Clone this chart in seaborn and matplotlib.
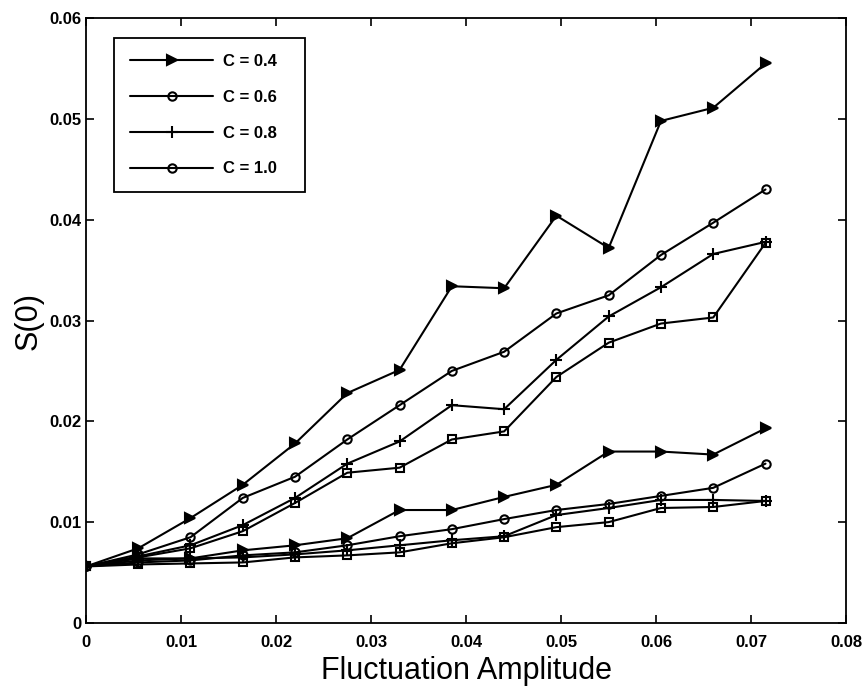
import numpy as np
import matplotlib
matplotlib.use("Agg")
import matplotlib.pyplot as plt
from matplotlib.lines import Line2D
import seaborn as sns

# Fluctuation amplitude (x) values
amplitude = [0.0, 0.0055, 0.011, 0.0165, 0.022, 0.0275, 0.033,
             0.0385, 0.044, 0.0495, 0.055, 0.0605, 0.066, 0.0715]

# upper set of curves
upper_c04 = [0.0056, 0.0074, 0.0104, 0.0137, 0.0178, 0.0228, 0.0251,
             0.0334, 0.0332, 0.0404, 0.0372, 0.0498, 0.0511, 0.0555]
upper_c06 = [0.0056, 0.0068, 0.0085, 0.0124, 0.0145, 0.0182, 0.0216,
             0.0250, 0.0269, 0.0307, 0.0325, 0.0365, 0.0397, 0.0430]
upper_c08 = [0.0056, 0.0066, 0.0077, 0.0097, 0.0124, 0.0158, 0.0180,
             0.0216, 0.0212, 0.0261, 0.0304, 0.0333, 0.0366, 0.0378]
upper_c10 = [0.0056, 0.0065, 0.0074, 0.0091, 0.0119, 0.0149, 0.0154,
             0.0182, 0.0190, 0.0244, 0.0278, 0.0297, 0.0303, 0.0377]

# lower set of curves
lower_c04 = [0.0056, 0.0064, 0.0064, 0.0072, 0.0077, 0.0084, 0.0112,
             0.0112, 0.0125, 0.0137, 0.0170, 0.0170, 0.0167, 0.0193]
lower_c06 = [0.0056, 0.0060, 0.0062, 0.0067, 0.0070, 0.0077, 0.0086,
             0.0093, 0.0103, 0.0112, 0.0118, 0.0126, 0.0134, 0.0158]
lower_c08 = [0.0056, 0.0062, 0.0064, 0.0065, 0.0068, 0.0072, 0.0077,
             0.0082, 0.0086, 0.0107, 0.0114, 0.0122, 0.0122, 0.0121]
lower_c10 = [0.0056, 0.0058, 0.0059, 0.0060, 0.0065, 0.0067, 0.0070,
             0.0079, 0.0085, 0.0095, 0.0100, 0.0114, 0.0115, 0.0121]

legend_labels = ["C = 0.4", "C = 0.6", "C = 0.8", "C = 1.0"]
x_ticklabels = ["0", "0.01", "0.02", "0.03", "0.04", "0.05", "0.06", "0.07", "0.08"]
y_ticklabels = ["0", "0.01", "0.02", "0.03", "0.04", "0.05", "0.06"]

sns.set_style("ticks")
plt.rcParams["font.family"] = ["Liberation Sans", "DejaVu Sans"]
plt.rcParams["text.color"] = "black"
plt.rcParams["axes.labelcolor"] = "black"
plt.rcParams["xtick.color"] = "black"
plt.rcParams["ytick.color"] = "black"

fig = plt.figure(figsize=(8.68, 6.96), dpi=100)
ax = fig.add_axes([0.099, 0.105, 0.876, 0.869])

# marker style per C value: (marker, filled, size)
styles = [(">", True, 7), ("o", False, 6), ("+", False, 8), ("s", False, 6)]
all_series = [upper_c04, upper_c06, upper_c08, upper_c10,
              lower_c04, lower_c06, lower_c08, lower_c10]

for i, ys in enumerate(all_series):
    m, filled, ms = styles[i % 4]
    sns.lineplot(x=amplitude, y=ys, ax=ax, color="black", linewidth=1.5,
                 marker=m, markersize=ms,
                 markerfacecolor="black" if filled else "none",
                 markeredgecolor="black", markeredgewidth=1.5)

ax.set_xlim(0, 0.08)
ax.set_ylim(0, 0.06)
ax.set_xticks(np.arange(0, 0.081, 0.01))
ax.set_yticks(np.arange(0, 0.061, 0.01))
ax.set_xticklabels(x_ticklabels)
ax.set_yticklabels(y_ticklabels)
ax.tick_params(direction="in", top=True, right=True, length=6, width=1.2,
               labelsize=12, colors="black")
ax.tick_params(axis="x", pad=9)
ax.tick_params(axis="y", pad=3)
for lbl in ax.get_xticklabels() + ax.get_yticklabels():
    lbl.set_fontweight("bold")
for sp in ax.spines.values():
    sp.set_linewidth(1.3)
    sp.set_color("black")

ax.set_xlabel("Fluctuation Amplitude", fontsize=22, labelpad=4, color="black")
ax.set_ylabel("S(0)", fontsize=22, labelpad=4, color="black")

# legend as in the original (C = 1.0 shown with a circle)
leg_markers = [(">", True, 7), ("o", False, 6), ("+", False, 8), ("o", False, 6)]
handles = [Line2D([], [], color="black", linewidth=1.5, marker=m,
                  markersize=ms,
                  markerfacecolor="black" if f else "none",
                  markeredgewidth=1.5)
           for m, f, ms in leg_markers]
leg = ax.legend(handles, legend_labels, loc="upper left",
                bbox_to_anchor=(0.037, 0.5, 0.251, 0.467), mode="expand",
                borderaxespad=0,
                fancybox=False, framealpha=1, edgecolor="black",
                handlelength=5.0, handletextpad=0.6, labelspacing=1.25,
                borderpad=0.95, prop={"size": 12, "weight": "bold"},
                numpoints=1)
leg.get_frame().set_linewidth(1.3)

fig.savefig("out.png", dpi=100)
